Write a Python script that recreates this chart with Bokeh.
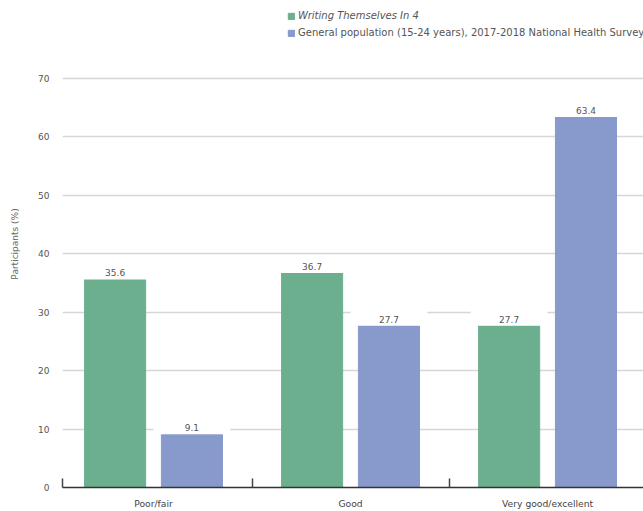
import numpy as np
from bokeh.plotting import figure
from bokeh.models import Range1d, FixedTicker, Legend, LegendItem, ColumnDataSource, LabelSet
from bokeh.core.properties import value
from bokeh.embed import file_html
from bokeh.resources import INLINE

categories = ["Poor/fair", "Good", "Very good/excellent"]
writing = [35.6, 36.7, 27.7]
general = [9.1, 27.7, 63.4]
series_names = ["Writing Themselves In 4",
                "General population (15-24 years), 2017-2018 National Health Survey"]
y_ticks = [0, 10, 20, 30, 40, 50, 60, 70]
y_title = "Participants (%)"

GREEN = "#6caf8e"
BLUE = "#8899cc"
FONT = "DejaVu Sans"
TXT = "#555555"

centers = np.arange(len(categories)) + 0.5
DODGE = 0.195
BW = 0.31

p = figure(width=643, height=511, output_backend="svg", toolbar_location=None,
           x_range=Range1d(0.038, 2.987), y_range=Range1d(0, 83.35),
           min_border_left=62, min_border_right=0, min_border_top=0, min_border_bottom=24)
p.outline_line_color = None
p.xgrid.visible = False
p.ygrid.grid_line_color = "#d6d6d6"
p.ygrid.grid_line_width = 1.4

# y axis
p.yaxis.ticker = FixedTicker(ticks=y_ticks)
p.yaxis.axis_line_color = None
p.yaxis.major_tick_line_color = None
p.yaxis.minor_tick_line_color = None
p.yaxis.major_tick_out = 0
p.yaxis.minor_tick_out = 0
p.yaxis.major_label_standoff = 13
p.yaxis.major_label_text_font = FONT
p.yaxis.major_label_text_font_size = "9px"
p.yaxis.major_label_text_color = TXT
p.yaxis.axis_label = y_title
p.yaxis.axis_label_standoff = 15
p.yaxis.axis_label_text_font = FONT
p.yaxis.axis_label_text_font_size = "9px"
p.yaxis.axis_label_text_font_style = "normal"
p.yaxis.axis_label_text_color = "#666666"

# x axis
p.xaxis.ticker = FixedTicker(ticks=list(centers), minor_ticks=[0.04, 1, 2])
p.xaxis.major_label_overrides = {float(c): cat for c, cat in zip(centers, categories)}
p.xaxis.major_tick_line_color = None
p.xaxis.major_tick_out = 0
p.xaxis.major_tick_in = 0
p.xaxis.minor_tick_in = 9
p.xaxis.minor_tick_out = 0
p.xaxis.minor_tick_line_color = "#444444"
p.xaxis.minor_tick_line_width = 1.5
p.xaxis.axis_line_color = "#333333"
p.xaxis.axis_line_width = 1.5
p.xaxis.major_label_standoff = 10
p.xaxis.major_label_text_font = FONT
p.xaxis.major_label_text_font_size = "9.2px"
p.xaxis.major_label_text_color = "#444444"

r1 = p.vbar(x=centers - DODGE, top=writing, width=BW, fill_color=GREEN, line_color=GREEN)
r2 = p.vbar(x=centers + DODGE, top=general, width=BW, fill_color=BLUE, line_color=BLUE)

# white boxes behind value labels (interrupt gridlines)
p.vbar(x=centers - DODGE, bottom=writing, top=np.array(writing) + 3.0, width=0.39,
       fill_color="white", line_color=None)
p.vbar(x=centers + DODGE, bottom=general, top=np.array(general) + 3.0, width=0.39,
       fill_color="white", line_color=None)

src = ColumnDataSource(dict(
    x=list(centers - DODGE) + list(centers + DODGE),
    y=writing + general,
    t=[f"{v:.1f}" for v in writing + general]))
p.add_layout(LabelSet(x="x", y="y", text="t", source=src, y_offset=3,
                      text_align="center", text_baseline="bottom",
                      text_font=value(FONT), text_font_size="9px", text_color=TXT))

def mk_legend(item, y, style):
    lg = Legend(items=[item], location=(225, y), padding=0, margin=0,
                border_line_color=None, background_fill_alpha=0,
                glyph_width=8, glyph_height=8, label_height=10, label_standoff=3,
                label_text_font=FONT, label_text_font_size="10px",
                label_text_color=TXT, label_text_font_style=style)
    p.add_layout(lg)

mk_legend(LegendItem(label=series_names[0], renderers=[r1]), 466, "italic")
mk_legend(LegendItem(label=series_names[1], renderers=[r2]), 449, "normal")

open("out.html", "w").write(file_html(p, INLINE))
